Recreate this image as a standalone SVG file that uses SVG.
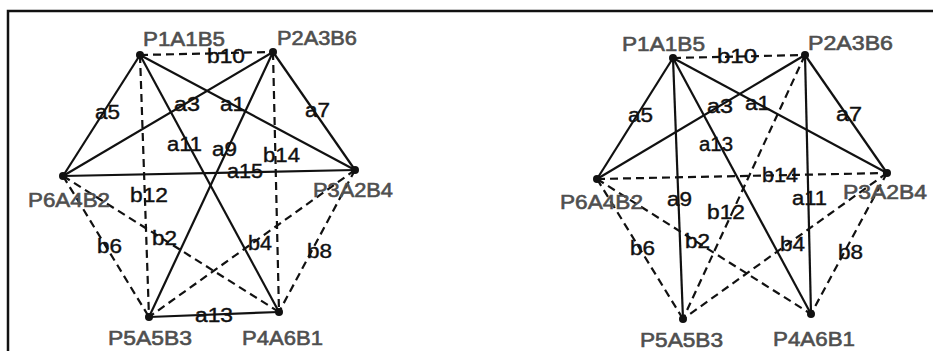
<svg xmlns="http://www.w3.org/2000/svg" width="933" height="351" viewBox="0 0 933 351">
<style>
.s{stroke:#111;stroke-width:2.2;fill:none}
.d{stroke:#111;stroke-width:2.2;fill:none;stroke-dasharray:8 5}
.n{fill:#111}
.nl{font-family:"Liberation Sans",Arial,sans-serif;font-size:20px;fill:#4f4f4f;stroke:#4f4f4f;stroke-width:0.6}
.el{font-family:"Liberation Sans",Arial,sans-serif;font-size:20px;fill:#111;stroke:#111;stroke-width:0.4}
.frame{stroke:#111;stroke-width:2.5;fill:none}
</style>
<rect width="933" height="351" fill="#fff"/>
<path class="frame" d="M8,351 V11 H933"/>
<g id="connectors-left">
<line class="s" x1="140" y1="55" x2="63" y2="176"/>
<line class="s" x1="140" y1="55" x2="355" y2="170"/>
<line class="s" x1="273" y1="52" x2="63" y2="176"/>
<line class="s" x1="273" y1="52" x2="355" y2="170"/>
<line class="s" x1="140" y1="55" x2="279" y2="312"/>
<line class="s" x1="273" y1="52" x2="149" y2="317"/>
<line class="s" x1="63" y1="176" x2="355" y2="170"/>
<line class="s" x1="149" y1="317" x2="279" y2="312"/>
<line class="d" x1="140" y1="55" x2="273" y2="52"/>
<line class="d" x1="140" y1="55" x2="149" y2="317"/>
<line class="d" x1="273" y1="52" x2="279" y2="312"/>
<line class="d" x1="63" y1="176" x2="279" y2="312"/>
<line class="d" x1="63" y1="176" x2="149" y2="317"/>
<line class="d" x1="355" y1="170" x2="149" y2="317"/>
<line class="d" x1="355" y1="170" x2="279" y2="312"/>
</g>
<g id="connectors-right">
<line class="s" x1="673" y1="58" x2="597" y2="179"/>
<line class="s" x1="805" y1="55" x2="597" y2="179"/>
<line class="s" x1="673" y1="58" x2="887" y2="173"/>
<line class="s" x1="805" y1="55" x2="887" y2="173"/>
<line class="s" x1="673" y1="58" x2="683" y2="319"/>
<line class="s" x1="673" y1="58" x2="811" y2="314"/>
<line class="s" x1="805" y1="55" x2="811" y2="314"/>
<line class="d" x1="673" y1="58" x2="805" y2="55"/>
<line class="d" x1="597" y1="179" x2="887" y2="173"/>
<line class="d" x1="805" y1="55" x2="683" y2="319"/>
<line class="d" x1="597" y1="179" x2="811" y2="314"/>
<line class="d" x1="597" y1="179" x2="683" y2="319"/>
<line class="d" x1="887" y1="173" x2="683" y2="319"/>
<line class="d" x1="887" y1="173" x2="811" y2="314"/>
</g>
<g id="edge-labels-left">
<text class="el" x="95" y="119" textLength="25" lengthAdjust="spacingAndGlyphs">a5</text>
<text class="el" x="207" y="63" textLength="38" lengthAdjust="spacingAndGlyphs">b10</text>
<text class="el" x="174" y="111" textLength="26" lengthAdjust="spacingAndGlyphs">a3</text>
<text class="el" x="220" y="111" textLength="25" lengthAdjust="spacingAndGlyphs">a1</text>
<text class="el" x="305" y="117" textLength="25" lengthAdjust="spacingAndGlyphs">a7</text>
<text class="el" x="167" y="151" textLength="35" lengthAdjust="spacingAndGlyphs">a11</text>
<text class="el" x="212" y="156" textLength="25" lengthAdjust="spacingAndGlyphs">a9</text>
<text class="el" x="263" y="162" textLength="37" lengthAdjust="spacingAndGlyphs">b14</text>
<text class="el" x="227" y="178" textLength="36" lengthAdjust="spacingAndGlyphs">a15</text>
<text class="el" x="130" y="202" textLength="38" lengthAdjust="spacingAndGlyphs">b12</text>
<text class="el" x="152" y="245" textLength="25" lengthAdjust="spacingAndGlyphs">b2</text>
<text class="el" x="97" y="253" textLength="25" lengthAdjust="spacingAndGlyphs">b6</text>
<text class="el" x="248" y="250" textLength="24" lengthAdjust="spacingAndGlyphs">b4</text>
<text class="el" x="307" y="258" textLength="25" lengthAdjust="spacingAndGlyphs">b8</text>
<text class="el" x="195" y="322" textLength="38" lengthAdjust="spacingAndGlyphs">a13</text>
</g>
<g id="edge-labels-right">
<text class="el" x="628" y="122" textLength="25" lengthAdjust="spacingAndGlyphs">a5</text>
<text class="el" x="717" y="63" textLength="40" lengthAdjust="spacingAndGlyphs">b10</text>
<text class="el" x="707" y="113" textLength="26" lengthAdjust="spacingAndGlyphs">a3</text>
<text class="el" x="745" y="110" textLength="25" lengthAdjust="spacingAndGlyphs">a1</text>
<text class="el" x="836" y="121" textLength="26" lengthAdjust="spacingAndGlyphs">a7</text>
<text class="el" x="699" y="151" textLength="34" lengthAdjust="spacingAndGlyphs">a13</text>
<text class="el" x="762" y="182" textLength="36" lengthAdjust="spacingAndGlyphs">b14</text>
<text class="el" x="667" y="206" textLength="25" lengthAdjust="spacingAndGlyphs">a9</text>
<text class="el" x="707" y="219" textLength="38" lengthAdjust="spacingAndGlyphs">b12</text>
<text class="el" x="792" y="205" textLength="35" lengthAdjust="spacingAndGlyphs">a11</text>
<text class="el" x="685" y="248" textLength="25" lengthAdjust="spacingAndGlyphs">b2</text>
<text class="el" x="630" y="255" textLength="25" lengthAdjust="spacingAndGlyphs">b6</text>
<text class="el" x="780" y="251" textLength="25" lengthAdjust="spacingAndGlyphs">b4</text>
<text class="el" x="838" y="259" textLength="25" lengthAdjust="spacingAndGlyphs">b8</text>
</g>
<g id="L-P1A1B5"><circle class="n" cx="140" cy="55" r="4"/><text class="nl" x="143" y="46" textLength="82" lengthAdjust="spacingAndGlyphs">P1A1B5</text></g>
<g id="L-P2A3B6"><circle class="n" cx="273" cy="52" r="4"/><text class="nl" x="277" y="45" textLength="80" lengthAdjust="spacingAndGlyphs">P2A3B6</text></g>
<g id="L-P3A2B4"><circle class="n" cx="355" cy="170" r="4"/><text class="nl" x="313" y="197" textLength="80" lengthAdjust="spacingAndGlyphs">P3A2B4</text></g>
<g id="L-P6A4B2"><circle class="n" cx="63" cy="176" r="4"/><text class="nl" x="28" y="207" textLength="82" lengthAdjust="spacingAndGlyphs">P6A4B2</text></g>
<g id="L-P5A5B3"><circle class="n" cx="149" cy="317" r="4"/><text class="nl" x="108" y="345" textLength="84" lengthAdjust="spacingAndGlyphs">P5A5B3</text></g>
<g id="L-P4A6B1"><circle class="n" cx="279" cy="312" r="4"/><text class="nl" x="242" y="345" textLength="81" lengthAdjust="spacingAndGlyphs">P4A6B1</text></g>
<g id="R-P1A1B5"><circle class="n" cx="673" cy="58" r="4"/><text class="nl" x="622" y="51" textLength="83" lengthAdjust="spacingAndGlyphs">P1A1B5</text></g>
<g id="R-P2A3B6"><circle class="n" cx="805" cy="55" r="4"/><text class="nl" x="808" y="50" textLength="85" lengthAdjust="spacingAndGlyphs">P2A3B6</text></g>
<g id="R-P3A2B4"><circle class="n" cx="887" cy="173" r="4"/><text class="nl" x="843" y="199" textLength="84" lengthAdjust="spacingAndGlyphs">P3A2B4</text></g>
<g id="R-P6A4B2"><circle class="n" cx="597" cy="179" r="4"/><text class="nl" x="560" y="209" textLength="83" lengthAdjust="spacingAndGlyphs">P6A4B2</text></g>
<g id="R-P5A5B3"><circle class="n" cx="683" cy="319" r="4"/><text class="nl" x="640" y="347" textLength="83" lengthAdjust="spacingAndGlyphs">P5A5B3</text></g>
<g id="R-P4A6B1"><circle class="n" cx="811" cy="314" r="4"/><text class="nl" x="773" y="346" textLength="82" lengthAdjust="spacingAndGlyphs">P4A6B1</text></g>
</svg>
